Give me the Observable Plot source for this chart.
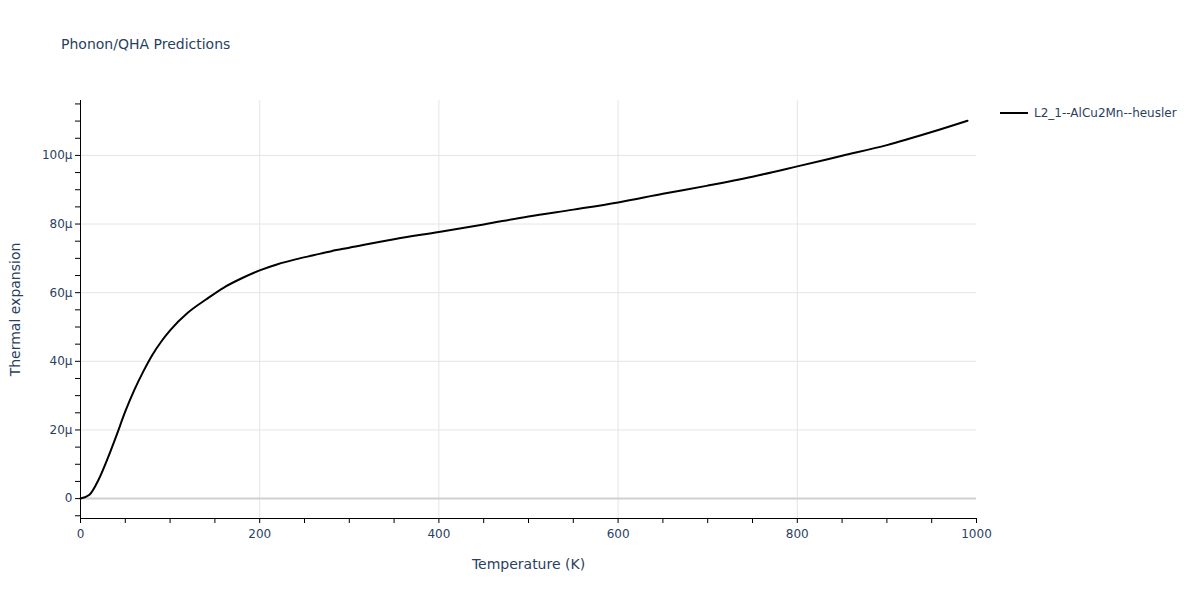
<!DOCTYPE html>
<html>
<head>
<meta charset="utf-8">
<script src="https://cdn.jsdelivr.net/npm/d3@7"></script>
<script src="https://cdn.jsdelivr.net/npm/@observablehq/plot@0.6"></script>
<style>
  body { margin: 0; background: #fff; font-family: "DejaVu Sans", Verdana, Arial, sans-serif; }
  #wrap { position: relative; width: 1200px; height: 600px; }
  #title { position: absolute; left: 61px; top: 36px; font-size: 14px; color: #2a3f5f; }
  #legend { position: absolute; left: 1000px; top: 106px; font-size: 12px; color: #2a3f5f; display: flex; align-items: center; }
  #legend .sw { width: 28px; height: 0; border-top: 2px solid #000; margin-right: 6px; }
  #chart { position: absolute; left: 0; top: 0; }
</style>
</head>
<body>
<div id="wrap">
  <div id="chart"></div>
  <div id="title">Phonon/QHA Predictions</div>
  <div id="legend"><div class="sw"></div><span>L2_1--AlCu2Mn--heusler</span></div>
</div>
<script>
const seriesName = "L2_1--AlCu2Mn--heusler";
const temperature = [0,10,20,30,40,50,60,70,80,90,100,120,140,160,180,200,220,240,260,280,300,350,400,450,500,550,600,650,700,750,800,850,900,950,990];
const expansion = [0,1.1,5.4,11.5,18.3,25.4,31.6,37.0,41.8,45.7,49,54.2,58,61.5,64.2,66.5,68.3,69.7,70.9,72.1,73.1,75.6,77.7,79.9,82.2,84.2,86.3,88.8,91.2,93.8,96.8,99.9,103.0,106.8,110.1];
const xTicks = d3.range(0, 1001, 50);
const yTicks = d3.range(-5, 116, 5);
const xGrid = [200, 400, 600, 800];
const yGrid = [20, 40, 60, 80, 100];

const data = temperature.map((t, i) => ({T: t, v: expansion[i]}));
const yMin = -5.8, yMax = 116;
const ink = "#2a3f5f";
const font = "'DejaVu Sans', Verdana, Arial, sans-serif";

const chart = Plot.plot({
  width: 1200,
  height: 600,
  marginLeft: 80,
  marginRight: 224,
  marginTop: 100,
  marginBottom: 82,
  style: {fontFamily: font, fontSize: "12px", color: ink, background: "#fff"},
  x: {domain: [0, 1000]},
  y: {domain: [yMin, yMax]},
  marks: [
    Plot.ruleX(xGrid, {stroke: "#e5e5e5", strokeWidth: 1, strokeOpacity: 1}),
    Plot.ruleY(yGrid, {stroke: "#e5e5e5", strokeWidth: 1, strokeOpacity: 1}),
    Plot.ruleY([0], {stroke: "#d0d0d0", strokeWidth: 2}),
    Plot.axisX({ticks: xTicks, tickSize: 5, tickPadding: 6, tickFormat: d => d % 200 === 0 ? String(d) : "",
      label: "Temperature (K)", labelAnchor: "center", labelArrow: "none", labelOffset: 50, fontSize: 12, fill: ink, stroke: "#000"}),
    Plot.axisY({ticks: yTicks, tickSize: 5, tickPadding: 3, tickFormat: d => d % 20 === 0 ? (d === 0 ? "0" : d + "µ") : "",
      label: "Thermal expansion", labelAnchor: "center", labelArrow: "none", labelOffset: 70, fontSize: 12, fill: ink, stroke: "#000"}),
    Plot.ruleX([0], {y1: yMin, y2: yMax, stroke: "#000", strokeWidth: 1}),
    Plot.ruleY([yMin], {x1: 0, x2: 1000, stroke: "#000", strokeWidth: 1}),
    Plot.line(data, {x: "T", y: "v", stroke: "#000", strokeWidth: 2, curve: "monotone-x"})
  ]
});
document.getElementById("chart").appendChild(chart);
chart.querySelectorAll("[aria-label='x-axis label'] text, [aria-label='y-axis label'] text").forEach(t => t.setAttribute("font-size", "14"));
</script>
</body>
</html>
